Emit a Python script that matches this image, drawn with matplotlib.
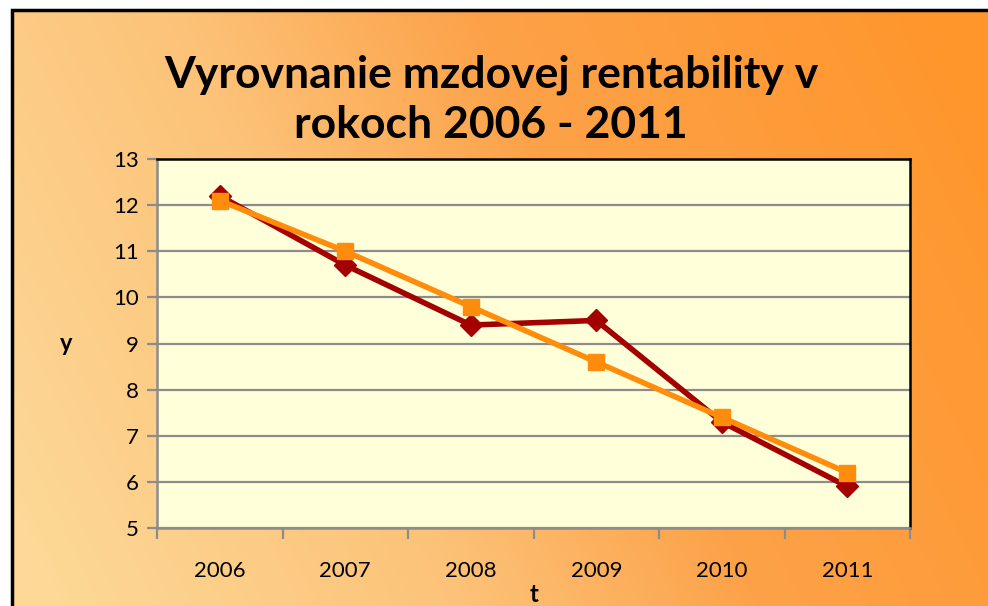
import numpy as np
import matplotlib
matplotlib.use("Agg")
import matplotlib.pyplot as plt
from matplotlib.colors import LinearSegmentedColormap

years = ["2006", "2007", "2008", "2009", "2010", "2011"]
actual = [12.2, 10.7, 9.4, 9.5, 7.3, 5.9]
trend = [12.1, 11.0, 9.8, 8.6, 7.4, 6.2]
yticks = [5, 6, 7, 8, 9, 10, 11, 12, 13]
title = "Vyrovnanie mzdovej rentability v\nrokoch 2006 - 2011"

plt.rcParams['font.family'] = ['Lato', 'DejaVu Sans']

W, H = 988, 606
fig = plt.figure(figsize=(W / 100, H / 100), dpi=100)
fig.patch.set_facecolor("white")

# background gradient
bg = fig.add_axes([0, 0, 1, 1], zorder=0)
bg.set_axis_off()
nx, ny = 300, 200
xx, yy = np.meshgrid(np.linspace(0, 1, nx), np.linspace(0, 1, ny))
t = np.clip(0.85 * xx + 0.25 * (1 - yy) - 0.05, 0, 1)  # yy=0 is top row
cmap = LinearSegmentedColormap.from_list(
    "bgc", [(0.0, "#FDD896"), (0.35, "#FCC278"), (0.6, "#FDA249"), (1.0, "#FF962C")])
bg.imshow(t, cmap=cmap, aspect="auto", extent=[0, 1, 0, 1], origin="upper",
          vmin=0, vmax=1)
bg.set_xlim(0, 1)
bg.set_ylim(0, 1)
# white margin above/left and black frame
x0 = 12 / W
y1 = 1 - 10 / H
bg.fill_between([0, 1], y1, 1, color="white", zorder=2)
bg.fill_between([0, x0], 0, 1, color="white", zorder=2)
bg.plot([x0, x0, 1], [0, y1, y1], color="black", lw=2.5, zorder=3,
        solid_joinstyle="miter", clip_on=False)

ax = fig.add_axes([157 / W, (H - 528) / H, (910 - 157) / W, (528 - 159) / H], zorder=1)
ax.set_facecolor("#FFFFD9")
x = np.arange(len(years))
ax.set_xlim(-0.5, len(years) - 0.5)
ax.set_ylim(5, 13)
ax.set_yticks(yticks)
ax.set_yticklabels([str(v) for v in yticks])
ax.yaxis.grid(True, color="#8C8C8C", lw=1.6)
ax.set_axisbelow(True)
ax.set_xticks(x)
ax.set_xticklabels(years)
ax.set_xticks(np.arange(-0.5, len(years)), minor=True)
ax.tick_params(axis="x", which="major", length=0, pad=24, labelsize=16)
ax.tick_params(axis="x", which="minor", length=8, width=1.6, color="#8C8C8C")
ax.tick_params(axis="y", length=7, width=1.6, color="#8C8C8C", labelsize=16, pad=6)

for s in ["left", "bottom"]:
    ax.spines[s].set_color("#8C8C8C")
    ax.spines[s].set_linewidth(1.8)
for s in ["top", "right"]:
    ax.spines[s].set_color("black")
    ax.spines[s].set_linewidth(1.8)

ax.plot(x, actual, color="#A50000", lw=4, marker="D", markersize=11, zorder=3)
ax.plot(x, trend, color="#FF8C0A", lw=4, marker="s", markersize=12, zorder=4)

ax.set_ylabel("y", fontsize=17, fontweight="bold", rotation=0, labelpad=0)
ax.yaxis.set_label_coords(-0.12, 0.5)
ax.yaxis.label.set_va("center")
ax.set_xlabel("t", fontsize=17, fontweight="bold")
ax.xaxis.set_label_coords(0.5, -0.15)
ax.xaxis.label.set_va("top")

fig.text(0.497, 0.836, title, ha="center", va="center", fontsize=32,
         fontweight="bold", linespacing=1.3)

fig.savefig("out.png", dpi=100)
